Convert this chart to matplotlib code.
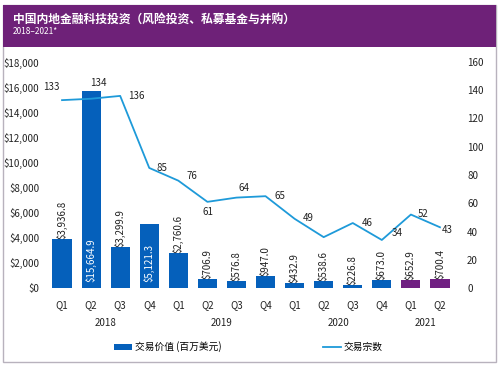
import numpy as np
import matplotlib.pyplot as plt
from matplotlib.patches import Rectangle
from matplotlib.lines import Line2D

plt.rcParams['font.family'] = ['Noto Sans CJK SC', 'DejaVu Sans']

# data
quarters = ["Q1", "Q2", "Q3", "Q4", "Q1", "Q2", "Q3", "Q4", "Q1", "Q2", "Q3", "Q4", "Q1", "Q2"]
years = ["2018", "2019", "2020", "2021"]
values = [3936.8, 15664.9, 3299.9, 5121.3, 2760.6, 706.9, 576.8, 947.0, 432.9, 538.6, 226.8, 673.0, 652.9, 700.4]
counts = [133, 134, 136, 85, 76, 61, 64, 65, 49, 36, 46, 34, 52, 43]
count_labels = ["133", "134", "136", "85", "76", "61", "64", "65", "49", "", "46", "34", "52", "43"]

BLUE = "#0560BB"
PURPLE = "#702082"
LINE = "#1E9AD9"
HEAD = "#6E2178"

x = np.arange(len(values))
bar_colors = [BLUE] * 12 + [PURPLE] * 2

fig = plt.figure(figsize=(4.99, 3.67), dpi=100, facecolor="white")
W, H = 499, 367

# frame + header
fig.patches.append(Rectangle((3 / W, 1 - 362 / H), 493 / W, 357 / H, transform=fig.transFigure,
                             facecolor="none", edgecolor="#b8b2bd", lw=1, zorder=-1))
fig.patches.append(Rectangle((3 / W, 1 - 47 / H), 493 / W, 42 / H, transform=fig.transFigure,
                             facecolor=HEAD, edgecolor="none", zorder=-1))
fig.text(13 / W, 1 - 19 / H, "中国内地金融科技投资（风险投资、私募基金与并购）", color="white",
         fontsize=8.5, fontweight="bold", va="center", ha="left")
fig.text(13 / W, 1 - 32 / H, "2018–2021*", color="white", fontsize=6, va="center", ha="left")

ax = fig.add_axes([47.5 / W, 1 - 288 / H, 407 / W, 226 / H])
ax.set_facecolor("none")
bars = ax.bar(x, values, width=0.66, color=bar_colors, zorder=2)
ax.set_xlim(-0.5, len(values) - 0.5)
ax.set_ylim(0, 18000)
ax.set_yticks(np.arange(0, 18001, 2000))
ax.set_yticklabels(["${:,}".format(v) for v in range(0, 18001, 2000)])
ax.set_xticks(x)
ax.set_xticklabels(quarters)
ax.tick_params(axis="both", length=0, labelsize=7, colors="#222222")
ax.tick_params(axis="y", pad=6)
ax.tick_params(axis="x", pad=9)
for s in ax.spines.values():
    s.set_visible(False)

# bar labels
for i, v in enumerate(values):
    txt = "${:,.1f}".format(v)
    if v > 5000:
        ax.annotate(txt, (i, 0), xytext=(0, 4), textcoords="offset points", rotation=90,
                    ha="center", va="bottom", fontsize=7, color="white", zorder=4)
    else:
        ax.annotate(txt, (i, v), xytext=(0, 0), textcoords="offset points", rotation=90,
                    ha="center", va="bottom", fontsize=7, color="#222222", zorder=4)

# year labels
for k, yr in enumerate(years):
    cx = [1.5, 5.5, 9.5, 12.5][k]
    ax.text(cx, -0.155, yr, transform=ax.get_xaxis_transform(), ha="center", va="center",
            fontsize=7, color="#222222")

ax2 = ax.twinx()
ax2.plot(x, counts, color=LINE, lw=1.3, zorder=3)
ax2.set_ylim(0, 160)
ax2.set_yticks(np.arange(0, 161, 20))
ax2.tick_params(axis="y", length=0, labelsize=7, colors="#222222", pad=9)
for s in ax2.spines.values():
    s.set_visible(False)

# count label offsets in pixels (dx, dy)
offs = [(-11, 13), (7, 16), (16, 0), (13, 0), (14, 5), (1, -10), (8, 10), (14, 0),
        (14, 1), (0, 0), (15, 0), (15, 7), (12, 1), (7, -3)]
for i, (c, lab) in enumerate(zip(counts, count_labels)):
    if not lab:
        continue
    dx, dy = offs[i]
    ax2.annotate(lab, (i, c), xytext=(dx * 0.72, dy * 0.72), textcoords="offset points",
                 ha="center", va="center", fontsize=7, color="#222222", zorder=5)

handles = [Rectangle((0, 0), 1, 1, facecolor=BLUE, edgecolor="none"),
           Line2D([0], [0], color=LINE, lw=1.3)]
fig.legend(handles, ["交易价值 (百万美元)", "交易宗数"], loc="center", ncol=2,
           bbox_to_anchor=(248.5 / W, 1 - 347 / H), frameon=False, fontsize=7,
           handlelength=1.8, handleheight=0.55, handletextpad=0.3, columnspacing=10.5)

fig.savefig("out.png", dpi=100)
